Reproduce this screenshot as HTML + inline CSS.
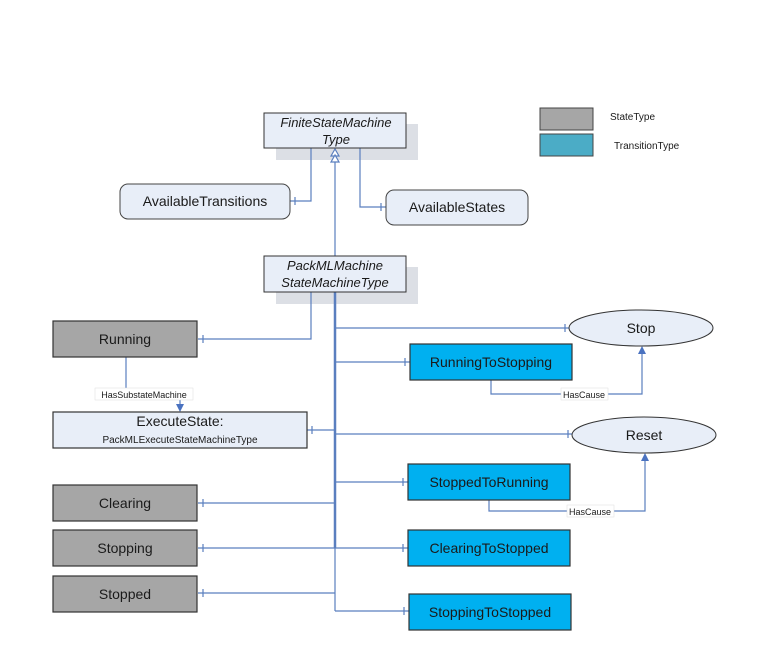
<!DOCTYPE html>
<html><head><style>
html,body{margin:0;padding:0;background:#fff;}
svg{display:block;}
text{font-family:"Liberation Sans",Arial,sans-serif;fill:#1a1a1a;}
</style></head><body>
<svg width="768" height="647" viewBox="0 0 768 647" xmlns="http://www.w3.org/2000/svg">
<!-- legend -->
<rect x="540" y="108" width="53" height="22" fill="#a6a6a6" stroke="#444" stroke-width="1"/>
<rect x="540" y="134" width="53" height="22" fill="#4bacc6" stroke="#444" stroke-width="1"/>
<text x="610" y="120" font-size="10">StateType</text>
<text x="614" y="149" font-size="10">TransitionType</text>

<!-- shadows -->
<rect x="276" y="124" width="142" height="36" fill="#dcdfe5"/>
<rect x="276" y="267" width="142" height="37" fill="#dcdfe5"/>

<g stroke="#5a7fbf" fill="none" stroke-width="1.2">
  <!-- FSM to AvailableTransitions -->
  <polyline points="311,148 311,201 290,201"/>
  <line x1="295" y1="197" x2="295" y2="205"/>
  <!-- FSM to AvailableStates -->
  <polyline points="360,148 360,207 386,207"/>
  <line x1="381" y1="203" x2="381" y2="211"/>
  <!-- inheritance -->
  <line x1="335" y1="162" x2="335" y2="256"/>
  <polygon points="335,149 331,156 339,156" fill="#fff"/>
  <polygon points="335,155 331,162 339,162" fill="#fff"/>
  <!-- main vertical -->
  <line x1="335" y1="292" x2="335" y2="548" stroke-width="2.5"/>
  <line x1="335" y1="548" x2="335" y2="611"/>
  <!-- Running -->
  <polyline points="198,339 311,339 311,292"/>
  <line x1="203" y1="335" x2="203" y2="343"/>
  <!-- right branches -->
  <line x1="335" y1="328" x2="569" y2="328"/><line x1="565" y1="324" x2="565" y2="332"/>
  <line x1="335" y1="362" x2="410" y2="362"/><line x1="405" y1="358" x2="405" y2="366"/>
  <line x1="335" y1="434" x2="572" y2="434"/><line x1="568" y1="430" x2="568" y2="438"/>
  <line x1="335" y1="482" x2="408" y2="482"/><line x1="403" y1="478" x2="403" y2="486"/>
  <line x1="198" y1="548" x2="408" y2="548"/><line x1="403" y1="544" x2="403" y2="552"/><line x1="203" y1="544" x2="203" y2="552"/>
  <line x1="335" y1="611" x2="409" y2="611"/><line x1="404" y1="607" x2="404" y2="615"/>
  <!-- left branches -->
  <line x1="307" y1="430" x2="335" y2="430"/><line x1="312" y1="426" x2="312" y2="434"/>
  <line x1="198" y1="503" x2="335" y2="503"/><line x1="203" y1="499" x2="203" y2="507"/>
  <line x1="198" y1="593" x2="335" y2="593"/><line x1="203" y1="589" x2="203" y2="597"/>
  <!-- HasSubstateMachine -->
  <line x1="126" y1="357" x2="126" y2="389"/>
  <line x1="180" y1="400" x2="180" y2="406"/>
  <!-- HasCause -->
  <polyline points="491,380 491,394 642,394 642,352"/>
  <polyline points="489,500 489,511 645,511 645,459"/>
</g>
<g fill="#4a72c0">
  <polygon points="176,404 184,404 180,412"/>
  <polygon points="638,354 646,354 642,346"/>
  <polygon points="641,461 649,461 645,453"/>
</g>

<!-- labels on connectors -->
<rect x="95" y="388" width="98" height="12" fill="#fff" stroke="#ddd" stroke-width="0.5"/>
<text x="144" y="398" font-size="9" text-anchor="middle">HasSubstateMachine</text>
<rect x="561" y="388" width="47" height="12" fill="#fff" stroke="#ddd" stroke-width="0.5"/>
<text x="584" y="398" font-size="9" text-anchor="middle">HasCause</text>
<rect x="567" y="505" width="47" height="12" fill="#fff" stroke="#ddd" stroke-width="0.5"/>
<text x="590" y="515" font-size="9" text-anchor="middle">HasCause</text>

<!-- type boxes -->
<rect x="264" y="113" width="142" height="35" fill="#e8eef8" stroke="#333" stroke-width="1"/>
<text x="336" y="127" font-size="13" font-style="italic" text-anchor="middle">FiniteStateMachine</text>
<text x="336" y="144" font-size="13" font-style="italic" text-anchor="middle">Type</text>
<rect x="264" y="256" width="142" height="36" fill="#e8eef8" stroke="#333" stroke-width="1"/>
<text x="335" y="270" font-size="13" font-style="italic" text-anchor="middle">PackMLMachine</text>
<text x="335" y="287" font-size="13" font-style="italic" text-anchor="middle">StateMachineType</text>

<rect x="120" y="184" width="170" height="35" rx="8" fill="#e8eef8" stroke="#444" stroke-width="1"/>
<text x="205" y="206" font-size="14" text-anchor="middle">AvailableTransitions</text>
<rect x="386" y="190" width="142" height="35" rx="8" fill="#e8eef8" stroke="#444" stroke-width="1"/>
<text x="457" y="212" font-size="14" text-anchor="middle">AvailableStates</text>

<!-- states -->
<g stroke="#333" stroke-width="1.2" fill="#a6a6a6">
  <rect x="53" y="321" width="144" height="36"/>
  <rect x="53" y="485" width="144" height="36"/>
  <rect x="53" y="530" width="144" height="36"/>
  <rect x="53" y="576" width="144" height="36"/>
</g>
<text x="125" y="344" font-size="14" text-anchor="middle">Running</text>
<text x="125" y="508" font-size="14" text-anchor="middle">Clearing</text>
<text x="125" y="553" font-size="14" text-anchor="middle">Stopping</text>
<text x="125" y="599" font-size="14" text-anchor="middle">Stopped</text>

<rect x="53" y="412" width="254" height="36" fill="#e8eef8" stroke="#333" stroke-width="1.2"/>
<text x="180" y="426" font-size="14" text-anchor="middle">ExecuteState:</text>
<text x="180" y="443" font-size="10" text-anchor="middle">PackMLExecuteStateMachineType</text>

<!-- transitions -->
<g stroke="#333" stroke-width="1.2" fill="#00b0f0">
  <rect x="410" y="344" width="162" height="36"/>
  <rect x="408" y="464" width="162" height="36"/>
  <rect x="408" y="530" width="162" height="36"/>
  <rect x="409" y="594" width="162" height="36"/>
</g>
<text x="491" y="367" font-size="14" text-anchor="middle">RunningToStopping</text>
<text x="489" y="487" font-size="14" text-anchor="middle">StoppedToRunning</text>
<text x="489" y="553" font-size="14" text-anchor="middle">ClearingToStopped</text>
<text x="490" y="617" font-size="14" text-anchor="middle">StoppingToStopped</text>

<!-- ellipses -->
<ellipse cx="641" cy="328" rx="72" ry="18" fill="#e8eef8" stroke="#333" stroke-width="1"/>
<text x="641" y="333" font-size="14" text-anchor="middle">Stop</text>
<ellipse cx="644" cy="435" rx="72" ry="18" fill="#e8eef8" stroke="#333" stroke-width="1"/>
<text x="644" y="440" font-size="14" text-anchor="middle">Reset</text>
</svg>
</body></html>
